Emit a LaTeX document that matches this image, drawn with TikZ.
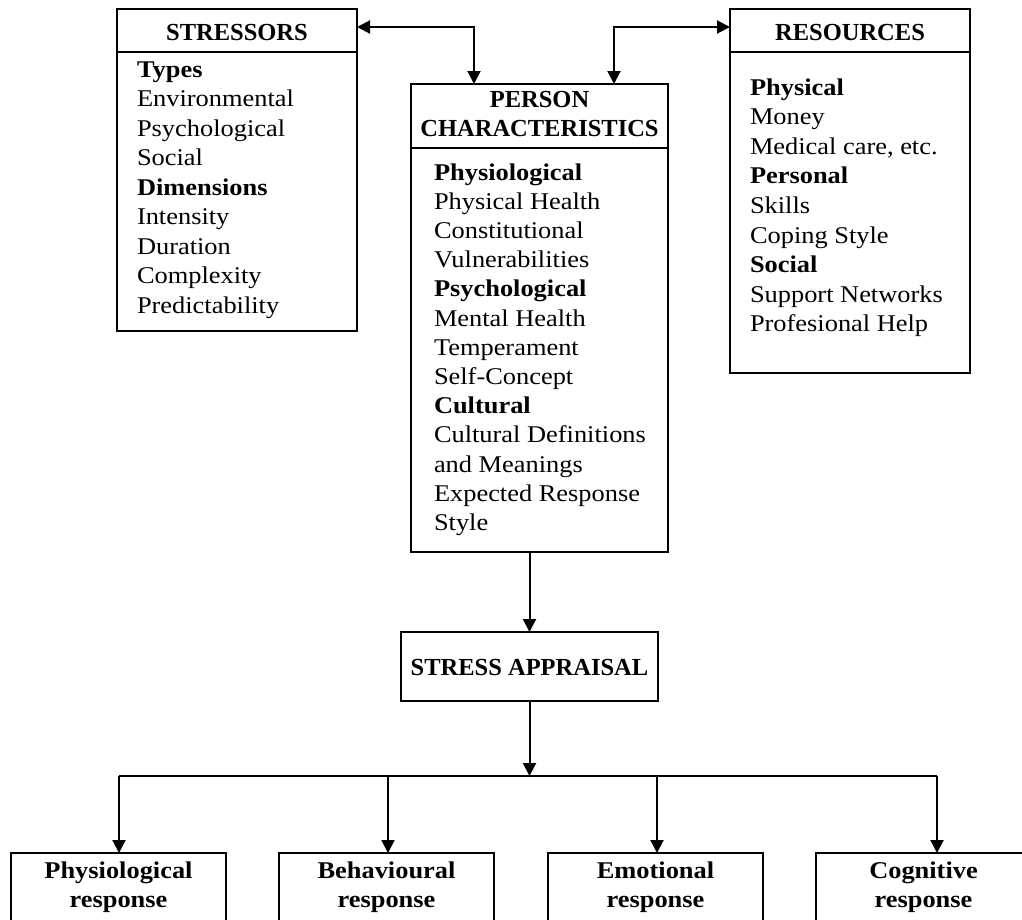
\documentclass[tikz,border=0pt]{standalone}
\usepackage{fontspec}
\setmainfont[FakeStretch=1.1]{Liberation Serif}
\newfontfamily\hdfont{Liberation Serif}
\usetikzlibrary{arrows.meta}
\tikzset{
  box/.style={draw, line width=2pt, rectangle, inner sep=0pt, outer sep=0pt},
  txt/.style={inner sep=0pt, outer sep=0pt, anchor=base west, font=\fontsize{24}{29}\selectfont},
  ctxt/.style={inner sep=0pt, outer sep=0pt, anchor=base, font=\fontsize{24}{29}\selectfont\bfseries},
  hd/.style={inner sep=0pt, outer sep=0pt, anchor=base, font=\hdfont\fontsize{24.5}{29}\selectfont\bfseries},
  conn/.style={line width=2pt},
  arr/.style={conn, -{Triangle[length=13pt,width=13pt]}},
  darr/.style={conn, {Triangle[length=13pt,width=13pt]}-{Triangle[length=13pt,width=13pt]}}
}
\begin{document}
\begin{tikzpicture}[x=1pt,y=-1pt]
\useasboundingbox (0,0) rectangle (1022,919);
\clip (0,0) rectangle (1022,919);
% boxes
\node[box, minimum width=240pt, minimum height=322pt] (str) at (237,170) {};
\node[box, minimum width=240pt, minimum height=364pt] (res) at (850,191) {};
\node[box, minimum width=257pt, minimum height=468pt] (per) at (539.5,318) {};
\node[box, minimum width=257pt, minimum height=69pt] (app) at (529.5,666.5) {};
\node[box, minimum width=215pt, minimum height=90pt] (phy) at (118.5,898) {};
\node[box, minimum width=215pt, minimum height=90pt] (beh) at (386.5,898) {};
\node[box, minimum width=215pt, minimum height=90pt] (emo) at (655.5,898) {};
\node[box, minimum width=215pt, minimum height=90pt] (cog) at (923.5,898) {};
% header separators
\coordinate (hs) at (0,52);
\coordinate (hp) at (0,148);
\draw[conn] (str.west |- hs) -- (str.east |- hs);
\draw[conn] (res.west |- hs) -- (res.east |- hs);
\draw[conn] (per.west |- hp) -- (per.east |- hp);
% headers
\node[hd] (strh) at (237,40) {STRESSORS};
\node[hd] (resh) at (850,40) {RESOURCES};
\node[hd] (perh1) at (539.5,107.3) {PERSON};
\node[hd] (perh2) at (539.5,136.7) {CHARACTERISTICS};
\node[hd] (apph) at (529.5,675) {STRESS APPRAISAL};
% stressors text
\foreach \t [count=\i] in {\textbf{Types}, Environmental, Psychological, Social, \textbf{Dimensions}, Intensity, Duration, Complexity, Predictability}
  \node[txt] (s\i) at (137,{77.3+29.5*(\i-1)}) {\t};
% person text
\foreach \t [count=\i] in {\textbf{Physiological}, Physical Health, Constitutional, Vulnerabilities, \textbf{Psychological}, Mental Health, Temperament, Self-Concept, \textbf{Cultural}, Cultural Definitions, and Meanings, Expected Response, Style}
  \node[txt] (p\i) at (434,{180+29.2*(\i-1)}) {\t};
% resources text
\foreach \t [count=\i] in {\textbf{Physical}, Money, {Medical care, etc.}, \textbf{Personal}, Skills, Coping Style, \textbf{Social}, Support Networks, Profesional Help}
  \node[txt] (r\i) at (750,{95+29.6*(\i-1)}) {\t};
% bottom boxes text
\node[ctxt] (phy1) at (118.5,878) {Physiological};
\node[ctxt] (phy2) at (118.5,907) {response};
\node[ctxt] (beh1) at (386.5,878) {Behavioural};
\node[ctxt] (beh2) at (386.5,907) {response};
\node[ctxt] (emo1) at (655.5,878) {Emotional};
\node[ctxt] (emo2) at (655.5,907) {response};
\node[ctxt] (cog1) at (923.5,878) {Cognitive};
\node[ctxt] (cog2) at (923.5,907) {response};
% connectors
\coordinate (j1) at (474,27);
\coordinate (j2) at (614,27);
\draw[darr] (j1 -| str.east) -| (j1 |- per.north);
\draw[darr] (j2 -| res.west) -| (j2 |- per.north);
\draw[arr] (app.north |- per.south) -- (app.north);
\coordinate (b1) at (119,776);
\coordinate (b2) at (388,776);
\coordinate (b3) at (657,776);
\coordinate (b4) at (937,776);
\draw[arr] (app.south) -- (app.south |- b1);
\draw[conn] (b1) -- (b4);
\draw[arr] (b1) -- (b1 |- phy.north);
\draw[arr] (b2) -- (b2 |- beh.north);
\draw[arr] (b3) -- (b3 |- emo.north);
\draw[arr] (b4) -- (b4 |- cog.north);
\end{tikzpicture}
\end{document}
